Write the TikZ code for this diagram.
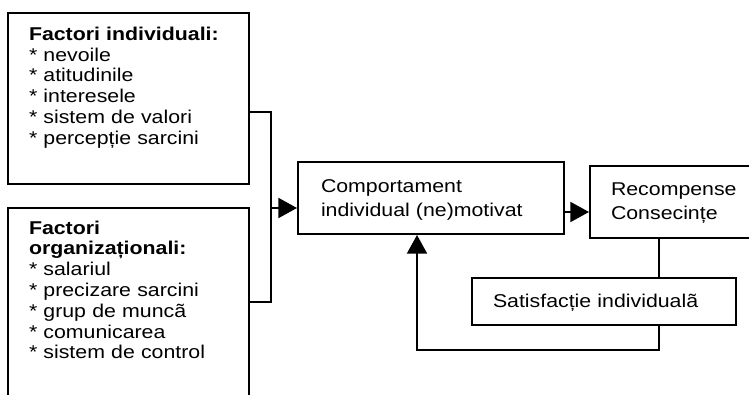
\documentclass[tikz,border=0pt]{standalone}
\usepackage{fontspec}
\setmainfont{Liberation Sans}[FakeStretch=1.15]
\usetikzlibrary{arrows.meta,positioning}
\tikzset{
    factbox/.style={draw, rectangle, line width=1.5pt, anchor=north west, align=left,
        inner xsep=15.75pt, inner ysep=0pt, font=\fontsize{13.9}{#1}\selectfont},
    factbox/.default=15.6pt,
    link/.style={line width=1.5pt},
    linkarrow/.style={line width=1.5pt, -{Triangle[length=14pt,width=15pt]}}
}
\begin{document}
\begin{tikzpicture}[x=0.75pt, y=-0.75pt]
    \useasboundingbox (0,0) rectangle (749,395);
    \clip (0,0) rectangle (749,395);
    % the two groups of factors
    \node[factbox, text width=149.25pt, text height=20.5pt, text depth=107.8pt] (ind) at (7,12)
        {\textbf{Factori individuali:}\\{}* nevoile\\{}* atitudinile\\{}* interesele\\{}* sistem de valori\\{}* percepție sarcini};
    \node[factbox, text width=149.25pt, text height=19.5pt, text depth=125.25pt] (org) at (7,207)
        {\textbf{Factori}\\\textbf{organizaționali:}\\{}* salariul\\{}* precizare sarcini\\{}* grup de muncã\\{}* comunicarea\\{}* sistem de control};
    % behaviour, rewards, satisfaction
    \node[factbox=18pt, inner xsep=17.25pt, text width=165pt, text height=23pt, text depth=31pt] (comp) at (297,161)
        {Comportament\\individual (ne)motivat};
    \node[factbox=18pt, text width=103.5pt, text height=22.5pt, text depth=31.5pt] (rec) at (589,165)
        {Recompense\\Consecințe};
    \node[factbox, text width=166.5pt, text height=22.3pt, text depth=13pt] (sat) at (471,277)
        {Satisfacție individualã};
    % bus on the left
    \coordinate (busA) at (271,112);
    \coordinate (busB) at (271,302);
    \coordinate (busM) at (271,208);
    \draw[link] (ind.east |- busA) -- (busA) -- (busB) -- (org.east |- busB);
    \draw[linkarrow] (busM) -- (comp.west |- busM);
    % towards the rewards
    \coordinate (out) at (563,212);
    \draw[linkarrow] (comp.east |- out) -- (rec.west |- out);
    % feedback loop
    \coordinate (drop) at (659,350);
    \coordinate (back) at (417,350);
    \draw[link] (rec.south -| drop) -- (sat.north -| drop);
    \draw[linkarrow] (sat.south -| drop) -- (drop) -- (back) -- (comp.south -| back);
\end{tikzpicture}
\end{document}
